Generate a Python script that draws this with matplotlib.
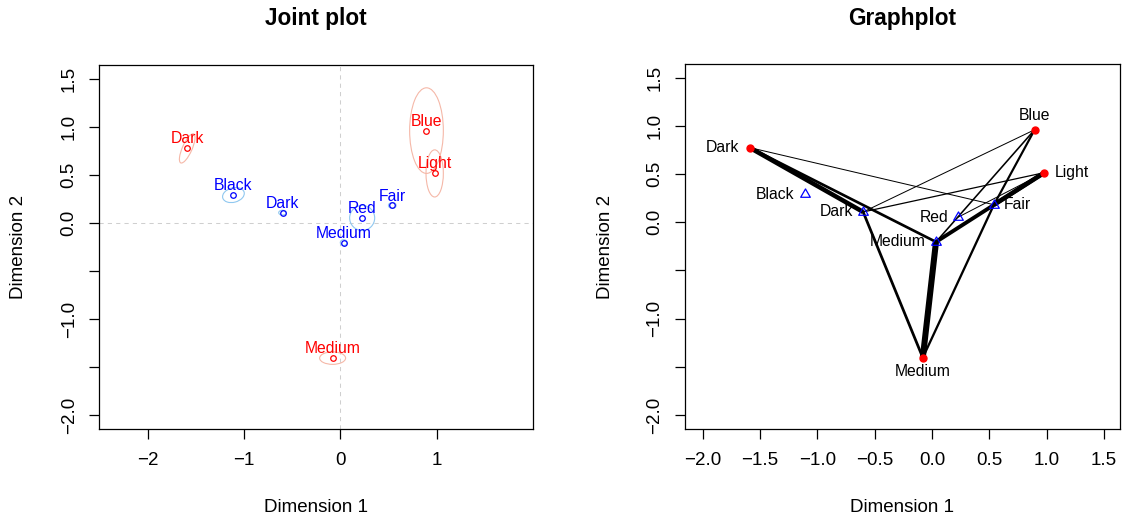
import numpy as np
import matplotlib
matplotlib.use("Agg")
import matplotlib.pyplot as plt
from matplotlib.patches import Ellipse
from matplotlib.path import Path

plt.rcParams['font.family'] = ['Liberation Sans', 'DejaVu Sans']

# ---------------- data ----------------
row_labels = ["Blue", "Light", "Medium", "Dark"]            # eye colour (red)
row_x = [0.895, 0.980, -0.080, -1.590]
row_y = [0.960, 0.515, -1.405, 0.775]

col_labels = ["Fair", "Red", "Medium", "Dark", "Black"]    # hair colour (blue)
col_x = [0.540, 0.227, 0.035, -0.600, -1.110]
col_y = [0.182, 0.052, -0.204, 0.107, 0.290]

# confidence ellipses (width, height, angle) in data units
row_ell_w = [0.35, 0.18, 0.27, 0.33]
row_ell_h = [0.89, 0.49, 0.13, 0.10]
row_ell_a = [0, 0, 0, 66]
col_ell_w = [0.08, 0.26, 0.07, 0.08, 0.23]
col_ell_h = [0.06, 0.26, 0.06, 0.05, 0.15]
col_ell_a = [0, 0, 0, 0, 15]

# frequency table (rows x cols)
freq = np.array([
    [326,  38, 241, 110,  3],
    [688, 116, 584, 188,  4],
    [343,  84, 909, 412, 26],
    [ 98,  48, 403, 681, 85],
])
min_freq_drawn = 90

# ---------------- style ----------------
RED = "#FF0000"
BLUE = "#0000FF"
RED_ELL = "#F5B8A8"
BLUE_ELL = "#90C8F0"
FS = 13.5
LFS = 11.3

W, H = 1124, 523
fig = plt.figure(figsize=(W / 100, H / 100), dpi=100)

def px_box(x0, x1, y0, y1):
    return [x0 / W, 1 - y1 / H, (x1 - x0) / W, (y1 - y0) / H]

ylim = (-2.145, 1.642)
yticks = [-2.0, -1.5, -1.0, -0.5, 0.0, 0.5, 1.0, 1.5]
yticklabels = ["\u22122.0", "", "\u22121.0", "", "0.0", "0.5", "1.0", "1.5"]

def style_axes(ax):
    for s in ax.spines.values():
        s.set_linewidth(0.9)
        s.set_color("black")
    ax.tick_params(axis="both", direction="out", length=7.2, width=0.9,
                   labelsize=FS, colors="black")
    ax.tick_params(axis="x", pad=9.4)
    ax.tick_params(axis="y", pad=8.4)
    ax.set_yticks(yticks)
    ax.set_yticklabels(yticklabels, rotation=90, va="center")
    ax.set_ylim(*ylim)

# ---------------- Joint plot ----------------
ax1 = fig.add_axes(px_box(99.3, 532.7, 65, 429.3))
ax1.set_xlim(-2.503, 1.998)
style_axes(ax1)
ax1.set_xticks([-2, -1, 0, 1])
ax1.set_xticklabels(["\u22122", "\u22121", "0", "1"])
ax1.axhline(0, color="#CFCFCF", lw=0.75, ls=(0, (4, 4)), zorder=1)
ax1.axvline(0, color="#CFCFCF", lw=0.75, ls=(0, (4, 4)), zorder=1)

for x, y, w, h, a in zip(row_x, row_y, row_ell_w, row_ell_h, row_ell_a):
    ax1.add_patch(Ellipse((x, y), w, h, angle=a, fill=False, ec=RED_ELL, lw=0.8, zorder=2))
for x, y, w, h, a in zip(col_x, col_y, col_ell_w, col_ell_h, col_ell_a):
    ax1.add_patch(Ellipse((x, y), w, h, angle=a, fill=False, ec=BLUE_ELL, lw=0.8, zorder=2))

ax1.plot(row_x, row_y, "o", ms=4, mfc="none", mec=RED, mew=0.9, ls="none", zorder=3)
ax1.plot(col_x, col_y, "o", ms=4, mfc="none", mec=BLUE, mew=0.9, ls="none", zorder=3)
for lab, x, y in zip(row_labels, row_x, row_y):
    ax1.annotate(lab, (x, y), xytext=(0, 6.8), textcoords="offset points",
                 ha="center", va="center", color=RED, fontsize=LFS, zorder=4)
for lab, x, y in zip(col_labels, col_x, col_y):
    ax1.annotate(lab, (x, y), xytext=(0, 6.8), textcoords="offset points",
                 ha="center", va="center", color=BLUE, fontsize=LFS, zorder=4)

# ---------------- Graphplot ----------------
ax2 = fig.add_axes(px_box(685, 1120, 64, 429))
ax2.set_xlim(-2.153, 1.639)
style_axes(ax2)
xt = [-2.0, -1.5, -1.0, -0.5, 0.0, 0.5, 1.0, 1.5]
ax2.set_xticks(xt)
ax2.set_xticklabels([("%.1f" % v).replace("-", "\u2212") for v in xt])

for i in range(len(row_labels)):
    for j in range(len(col_labels)):
        f = freq[i, j]
        if f >= min_freq_drawn:
            lw_px = max(f / 150.0, 1.0)
            ax2.plot([row_x[i], col_x[j]], [row_y[i], col_y[j]], color="black",
                     lw=lw_px * 0.72, solid_capstyle="butt", zorder=2)

tri = Path([(0, 1.555), (1.347, -0.778), (-1.347, -0.778), (0, 1.555)],
           [Path.MOVETO, Path.LINETO, Path.LINETO, Path.CLOSEPOLY])
ax2.plot(row_x, row_y, "o", ms=5, color=RED, ls="none", zorder=3)
ax2.plot(col_x, col_y, marker=tri, ms=8, mfc="none", mec=BLUE, mew=0.9, ls="none", zorder=3)

# label placement: 1 below, 2 left, 3 above, 4 right
row_pos = [3, 4, 1, 2]
col_pos = [4, 2, 2, 2, 2]
def place(ax, lab, x, y, pos):
    if pos == 1:
        off, ha, va = (0, -10.2), "center", "center"
    elif pos == 3:
        off, ha, va = (0, 10.2), "center", "center"
    elif pos == 2:
        off, ha, va = (-7.2, 0), "right", "center"
    else:
        off, ha, va = (7.2, 0), "left", "center"
    ax.annotate(lab, (x, y), xytext=off, textcoords="offset points",
                ha=ha, va=va, color="black", fontsize=LFS, zorder=4)
for lab, x, y, p in zip(row_labels, row_x, row_y, row_pos):
    place(ax2, lab, x, y, p)
for lab, x, y, p in zip(col_labels, col_x, col_y, col_pos):
    place(ax2, lab, x, y, p)

# ---------------- titles / axis labels ----------------
fig.text(316 / W, 1 - 18 / H, "Joint plot", ha="center", va="center",
         fontsize=16.3, fontweight="bold")
fig.text(902.5 / W, 1 - 18 / H, "Graphplot", ha="center", va="center",
         fontsize=16.3, fontweight="bold")
for cx in (316, 902.5):
    fig.text(cx / W, 1 - 508 / H, "Dimension 1", ha="center", va="center", fontsize=FS)
for cx in (19, 606):
    fig.text(cx / W, 1 - 247 / H, "Dimension 2", ha="center", va="center",
             rotation=90, fontsize=FS)

fig.savefig("out.png", dpi=100, facecolor="white")
